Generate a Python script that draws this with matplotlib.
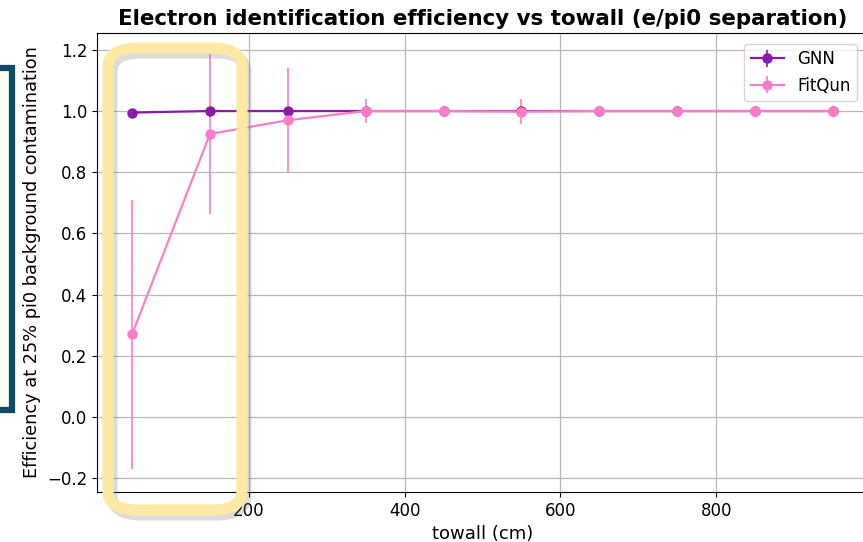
import matplotlib
matplotlib.use("Agg")
import matplotlib.pyplot as plt
from matplotlib.patches import FancyBboxPatch, Rectangle

towall = [50, 150, 250, 350, 450, 550, 650, 750, 850, 950]
gnn_eff = [0.995, 1.0, 1.0, 1.0, 1.0, 1.0, 1.0, 1.0, 1.0, 1.0]
gnn_err = [0.004, 0.002, 0.002, 0.001, 0.001, 0.001, 0.001, 0.001, 0.001, 0.001]
fq_eff = [0.27, 0.925, 0.97, 1.0, 1.0, 0.998, 1.0, 1.0, 1.0, 1.0]
fq_err = [0.44, 0.26, 0.17, 0.04, 0.005, 0.04, 0.003, 0.003, 0.003, 0.003]

W, H = 863, 542
fig = plt.figure(figsize=(W / 100, H / 100), dpi=100)
ax = fig.add_axes([97 / W, 1 - 492 / H, (868 - 97) / W, (492 - 33) / H])

ax.errorbar(towall, gnn_eff, yerr=gnn_err, fmt='-o', color='#8b1aa8',
            ms=6.5, lw=1.6, elinewidth=1.2, label='GNN', zorder=3)
ax.errorbar(towall, fq_eff, yerr=fq_err, fmt='-o', color='#ff7cc8',
            ms=6.5, lw=1.6, elinewidth=1.2, label='FitQun', zorder=3)

ax.set_xlim(5, 995)
ax.set_ylim(-0.245, 1.255)
ax.set_xticks([200, 400, 600, 800])
ax.set_yticks([-0.2, 0.0, 0.2, 0.4, 0.6, 0.8, 1.0, 1.2])
ax.tick_params(labelsize=12)
ax.grid(True, color='#b8b8b8', lw=0.9)
ax.set_xlabel('towall (cm)', fontsize=13)
ax.set_ylabel('Efficiency at 25% pi0 background contamination', fontsize=12.8)
ax.set_title('Electron identification efficiency vs towall (e/pi0 separation)',
             fontsize=15.4, fontweight='bold')
ax.legend(loc='upper right', fontsize=12, bbox_to_anchor=(0.997, 0.995))

# left bracket shape
fig.patches.append(Rectangle((-20 / W, 1 - 410 / H), 32 / W, (410 - 68) / H,
                             transform=fig.transFigure, facecolor='#fffff2',
                             edgecolor='#0f4a66', lw=4.5, zorder=5))

# highlight box with shadow
x0, y0, x1, y1 = 108, 48, 242, 510
for dx, dy, col, a in [(4, 5, '#777777', 0.25), (0, 0, '#fde9a3', 1.0)]:
    fig.patches.append(FancyBboxPatch(((x0 + dx) / W, 1 - (y1 + dy) / H),
                                      (x1 - x0) / W, (y1 - y0) / H,
                                      boxstyle='round,pad=0,rounding_size=0.035',
                                      transform=fig.transFigure, facecolor='none',
                                      edgecolor=col, alpha=a, lw=8, zorder=6))

fig.savefig('out.png', dpi=100)
